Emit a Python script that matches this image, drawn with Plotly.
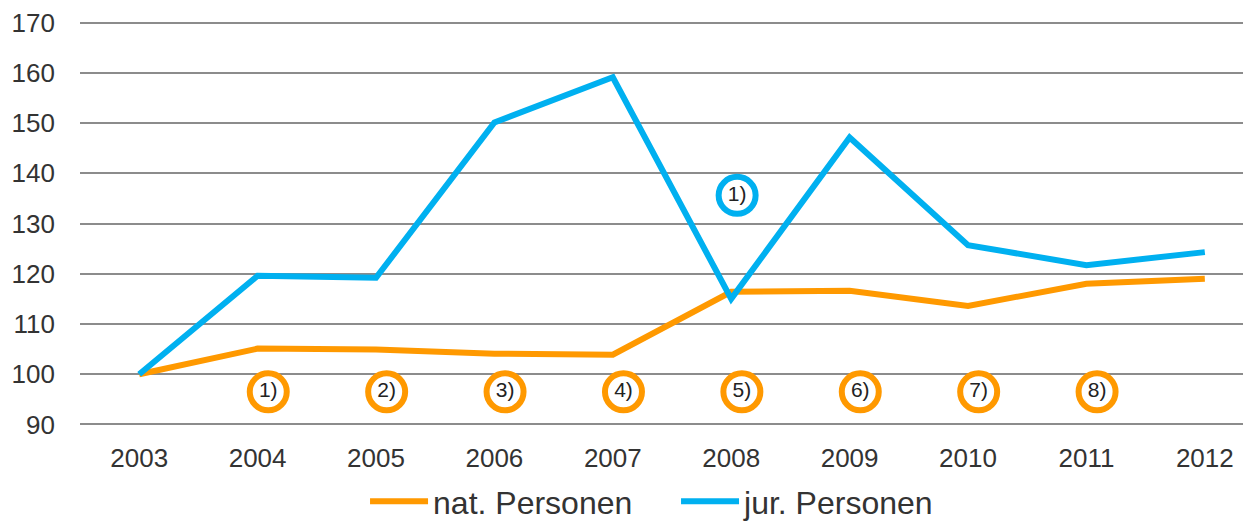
import plotly.graph_objects as go

years = ["2003", "2004", "2005", "2006", "2007", "2008", "2009", "2010", "2011", "2012"]
nat_personen = [100.0, 105.1, 104.9, 104.1, 103.9, 116.4, 116.6, 113.6, 118.0, 119.0]
jur_personen = [100.0, 119.6, 119.2, 150.1, 159.1, 115.0, 147.1, 125.7, 121.7, 124.3]
note_labels_nat = ["1)", "2)", "3)", "4)", "5)", "6)", "7)", "8)"]
note_years_nat = ["2004", "2005", "2006", "2007", "2008", "2009", "2010", "2011"]
note_label_jur = ["1)"]
note_year_jur = ["2008"]

ORANGE = "#FF9900"
BLUE = "#00B0F0"
FONT = "Liberation Sans, Arial, sans-serif"

xi = list(range(len(years)))
fig = go.Figure()
fig.add_trace(go.Scatter(x=xi, y=nat_personen, mode="lines", name="nat. Personen",
                         line=dict(color=ORANGE, width=6)))
fig.add_trace(go.Scatter(x=xi, y=jur_personen, mode="lines", name="jur. Personen",
                         line=dict(color=BLUE, width=6)))

# footnote circles
nat_x = [years.index(y) + 0.09 for y in note_years_nat]
fig.add_trace(go.Scatter(x=nat_x, y=[96.5] * len(nat_x), mode="markers+text",
                         text=note_labels_nat, textposition="middle center",
                         textfont=dict(size=21, color="#222", family=FONT),
                         marker=dict(size=37, color="white", line=dict(color=ORANGE, width=6)),
                         showlegend=False, hoverinfo="skip"))
jur_x = [years.index(y) + 0.05 for y in note_year_jur]
fig.add_trace(go.Scatter(x=jur_x, y=[135.6], mode="markers+text",
                         text=note_label_jur, textposition="middle center",
                         textfont=dict(size=21, color="#222", family=FONT),
                         marker=dict(size=37, color="white", line=dict(color=BLUE, width=6)),
                         showlegend=False, hoverinfo="skip"))

fig.update_layout(
    width=1243, height=514,
    margin=dict(l=72, r=0, t=11.5, b=94.5, autoexpand=False),
    plot_bgcolor="white", paper_bgcolor="white",
    font=dict(family=FONT, size=26, color="#333"),
    xaxis=dict(range=[-0.5, 9.39], tickmode="array", tickvals=xi, ticktext=years,
               showgrid=False, zeroline=False, showline=False, ticks="",
               automargin=False, ticklabelstandoff=13,
               tickfont=dict(size=26, color="#333")),
    yaxis=dict(range=[89.5, 170.5], tickmode="array", tickvals=list(range(90, 171, 10)),
               showgrid=True, gridcolor="#8c8c8c",
               gridwidth=2, zeroline=False, showline=False, ticks="",
               automargin=False, ticklabelstandoff=24, ticklabeloverflow="allow",
               tickfont=dict(size=26, color="#333")),
    legend=dict(orientation="h", x=0.509, xanchor="center", y=-0.183, yanchor="middle",
                font=dict(size=32, color="#333"), itemwidth=58, entrywidth=238),
    showlegend=True,
)

fig.write_html("out.html")
